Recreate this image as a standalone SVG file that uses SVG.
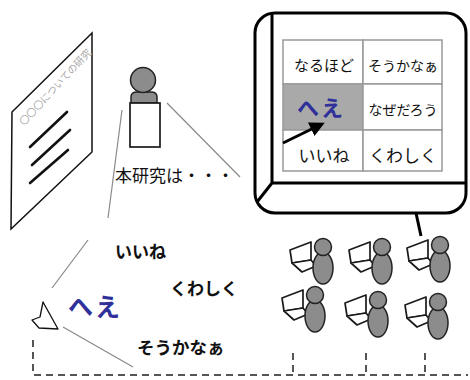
<svg xmlns="http://www.w3.org/2000/svg" width="470" height="380" viewBox="0 0 470 380">
  <style>
    .jp { font-family: "Noto Sans CJK JP", "Noto Sans", sans-serif; }
    .b { font-weight: bold; }
    .sight { stroke: #8a8a8a; stroke-width: 1.2; fill: none; }
    .dash { stroke: #555; stroke-width: 2; fill: none; stroke-dasharray: 7 5; }
    .outline { stroke: #1a1a1a; stroke-width: 1.7; }
    .person { fill: #8c8c8c; stroke: #222; stroke-width: 1.5; }
    .grid { fill: #fff; stroke: #999; stroke-width: 1.5; }
    .blue { fill: #30309a; }
  </style>
  <defs>
    <!-- listener: laptop + seated person, origin at head centre -->
    <g id="listener">
      <polygon points="-33,3 -12,-5 -12,13 -31,16" fill="#fff" class="outline" stroke-linejoin="round"/>
      <polygon points="-31,16 -12,13 -7,19 -21,25" fill="#fff" class="outline" stroke-linejoin="round"/>
      <ellipse cx="0" cy="21" rx="10" ry="16" class="person"/>
      <circle cx="0" cy="0" r="8.5" class="person"/>
    </g>
    <marker id="ah" viewBox="0 0 10 10" refX="8" refY="5" markerWidth="5" markerHeight="5" orient="auto">
      <path d="M0,0 L10,5 L0,10 Z" fill="#000"/>
    </marker>
  </defs>

  <rect width="470" height="380" fill="#fff"/>

  <!-- lines of sight and network -->
  <g id="connectors">
    <line class="sight" x1="167" y1="103" x2="240" y2="177"/>
    <line class="sight" x1="122" y1="110" x2="108" y2="218"/>
    <line class="sight" x1="88" y1="240" x2="52" y2="288"/>
    <line class="sight" x1="63" y1="327" x2="133" y2="367"/>
    <path class="dash" d="M33,340 V375 H468"/>
    <path class="dash" d="M293,353 V375 M366,353 V375 M425,353 V375"/>
    <line x1="416" y1="213" x2="421" y2="236" stroke="#000" stroke-width="3"/>
  </g>

  <!-- slide document -->
  <g id="document">
    <polygon points="12,112 92,33 92,152 11,229" fill="#fff" stroke="#111" stroke-width="1.5"/>
    <text class="jp" font-size="10" fill="#a8a8a8" transform="translate(24,126) rotate(-47)">〇〇〇についての研究</text>
    <g stroke="#111" stroke-width="2.6" stroke-linecap="round">
      <line x1="30" y1="147" x2="67" y2="112"/>
      <line x1="32" y1="165" x2="70" y2="130"/>
      <line x1="30" y1="183" x2="68" y2="150"/>
    </g>
  </g>

  <!-- presenter -->
  <g id="presenter">
    <path d="M131,103 L131,97 Q131,92 137,92 L151,92 Q157,92 157,97 L157,103 Z" class="person"/>
    <circle cx="143" cy="80" r="12.5" class="person"/>
    <rect x="130" y="103" width="30" height="44" fill="#fff" class="outline"/>
  </g>
  <text id="talk" x="115" y="182" font-size="17" fill="#111" font-family="'Liberation Serif', 'Noto Sans CJK JP', serif">本研究は・・・</text>

  <!-- reaction screen -->
  <g id="screen">
    <rect x="255" y="13" width="211" height="200" rx="20" fill="#fff" stroke="#000" stroke-width="3"/>
    <path d="M272,13 V183 H466 M272,183 L257,202" fill="none" stroke="#000" stroke-width="3"/>
    <rect class="grid" x="283" y="40" width="80" height="44"/>
    <rect class="grid" x="363" y="40" width="79" height="44"/>
    <rect x="283" y="84" width="80" height="46" fill="#a9a9a9" stroke="#999" stroke-width="1.5"/>
    <rect class="grid" x="363" y="84" width="79" height="46"/>
    <rect class="grid" x="283" y="130" width="80" height="41"/>
    <rect class="grid" x="363" y="130" width="79" height="41"/>
    <g class="jp" text-anchor="middle" fill="#111">
      <text x="324" y="71" font-size="15">なるほど</text>
      <text x="403" y="71" font-size="14">そうかなぁ</text>
      <text x="403" y="115" font-size="14">なぜだろう</text>
      <text x="324" y="162" font-size="17">いいね</text>
      <text x="403" y="162" font-size="17">くわしく</text>
    </g>
    <text class="jp b blue" x="321" y="116" font-size="22" text-anchor="middle" letter-spacing="2">へえ</text>
    <line x1="283" y1="143" x2="322" y2="124" stroke="#000" stroke-width="3" marker-end="url(#ah)"/>
  </g>

  <!-- floating reactions -->
  <g id="reactions" class="jp b" fill="#111">
    <text x="115" y="258" font-size="17">いいね</text>
    <text x="170" y="295" font-size="17">くわしく</text>
    <text x="137" y="354" font-size="17.5">そうかなぁ</text>
    <text class="blue" x="68" y="316" font-size="25" letter-spacing="2">へえ</text>
  </g>

  <!-- viewer pointer -->
  <g id="viewer">
    <polygon points="43,302 58,329 39,328 32,320 40,317" fill="#fff" stroke="#111" stroke-width="1.3" stroke-linejoin="round"/>
  </g>

  <!-- audience -->
  <g id="audience-1"><use href="#listener" x="323" y="247"/></g>
  <g id="audience-2"><use href="#listener" x="382" y="247"/></g>
  <g id="audience-3"><use href="#listener" x="440" y="245"/></g>
  <g id="audience-4"><use href="#listener" x="315" y="295"/></g>
  <g id="audience-5"><use href="#listener" x="378" y="300"/></g>
  <g id="audience-6"><use href="#listener" x="438" y="302"/></g>
</svg>
